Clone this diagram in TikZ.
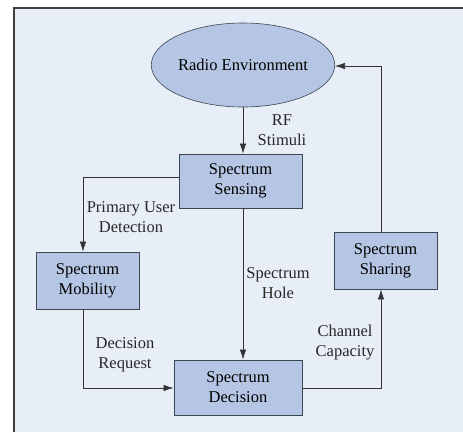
\documentclass[tikz,border=0pt]{standalone}
\usepackage{fontspec}
\setmainfont{Liberation Serif}
\usetikzlibrary{shapes.geometric,arrows.meta}
\definecolor{panelbg}{HTML}{E8EEF8}
\definecolor{boxfill}{HTML}{B4C6E4}
\definecolor{boxline}{HTML}{3C4650}
\begin{document}
\begin{tikzpicture}[x=1pt,y=-1pt,
box/.style = {rectangle, draw=boxline, fill=boxfill, line width=0.9pt,
	inner sep=0pt, align=center, font=\fontsize{16.5}{20}\selectfont},
env/.style = {ellipse, draw=boxline, fill=boxfill, line width=0.6pt,
	inner sep=0pt, font=\fontsize{16.5}{20}\selectfont},
lbl/.style = {align=center, text=black!85, font=\fontsize{16.5}{20}\selectfont},
flow/.style = {draw=black!80, line width=0.6pt, -{Latex[length=10pt,width=6.5pt]}}]

\useasboundingbox (0,0) rectangle (463,432);
\fill[panelbg] (14,8) rectangle (463,432);
\draw[black!75, line width=2pt] (14,432) -- (14,8) -- (463,8);

\node (env) at (243,65) [env, minimum width=156pt, minimum height=84pt] {Radio Environment};
\node (sense) at (240.5,181) [box, minimum width=123pt, minimum height=54pt] {Spectrum\\Sensing};
\node (mob) at (87.5,280.5) [box, minimum width=103pt, minimum height=57pt] {Spectrum\\Mobility};
\node (dec) at (238,387.5) [box, minimum width=128pt, minimum height=55pt] {Spectrum\\Decision};
\node (share) at (385.5,260.5) [box, minimum width=103pt, minimum height=57pt] {Spectrum\\Sharing};

\coordinate (pu) at (83,177);
\coordinate (dr) at (83,388);
\coordinate (cc) at (381,388);
\coordinate (top) at (381,66);

\draw[flow] (env.south -| 243,0) -- (sense.north -| 243,0);
\draw[flow] (sense.west |- pu) -- (pu) -- (mob.north -| pu);
\draw[flow] (sense.south -| 243,0) -- (dec.north -| 243,0);
\draw[flow] (mob.south -| dr) -- (dr) -- (dec.west |- dr);
\draw[flow] (dec.east |- cc) -- (cc) -- (share.south -| cc);
\draw[flow] (share.north -| top) -- (top) -- (env.east |- top);

\node at (282,130) [lbl] {RF\\Stimuli};
\node at (131,217) [lbl] {Primary User\\Detection};
\node at (278,283) [lbl] {Spectrum\\Hole};
\node at (125,355) [lbl] {Decision\\Request};
\node at (345,343) [lbl] {Channel\\Capacity};
\end{tikzpicture}
\end{document}
